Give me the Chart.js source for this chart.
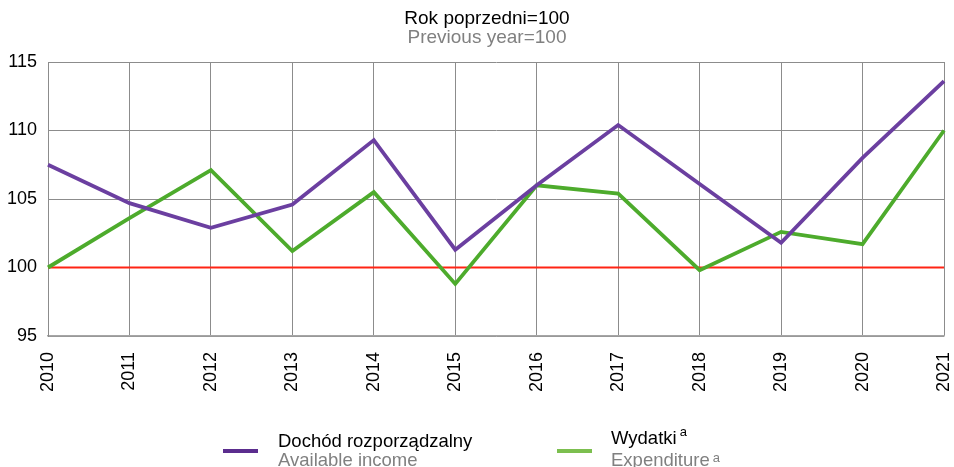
<!DOCTYPE html>
<html>
<head>
<meta charset="utf-8">
<script src="https://cdn.jsdelivr.net/npm/chart.js@4"></script>
<style>
  html, body { margin: 0; padding: 0; background: #fff; }
  #wrap { position: relative; width: 954px; height: 467px; font-family: "Liberation Sans", Arial, sans-serif; overflow: hidden; }
  .ttl { position: absolute; left: 387px; width: 200px; text-align: center; font-size: 19px; line-height: 19px; white-space: nowrap; }
  .leg { position: absolute; font-size: 18.5px; line-height: 19px; white-space: nowrap; }
  .leg .pl { color: #000; }
  .leg .en { color: #808080; }
  .leg sup { font-size: 13px; vertical-align: 8px; line-height: 0; margin-left: 3px; }
  .leg sup.low { vertical-align: 4px; }
  .sample { position: absolute; height: 4px; }
</style>
</head>
<body>
<div id="wrap">
  <canvas id="chart" width="954" height="467"></canvas>
  <div class="ttl" style="top:8px; color:#000;">Rok poprzedni=100</div>
  <div class="ttl" style="top:27px; color:#808080;">Previous year=100</div>
  <div class="sample" style="left:223px; top:449px; width:35px; background:#5b2d8e;"></div>
  <div class="leg" style="left:278px; top:431px;"><div class="pl">Dochód rozporządzalny</div><div class="en">Available income</div></div>
  <div class="sample" style="left:557px; top:449px; width:35px; background:#7cbf4f;"></div>
  <div class="leg" style="left:611px; top:428px;"><div class="pl">Wydatki<sup>a</sup></div><div class="en" style="margin-top:3px;">Expenditure<sup class="low">a</sup></div></div>
</div>
<script>
// dane: rok poprzedni = 100
const years = ['2010', '2011', '2012', '2013', '2014', '2015', '2016', '2017', '2018', '2019', '2020', '2021'];
const dochod = [107.5, 104.7, 102.9, 104.6, 109.3, 101.3, 106.0, 110.4, 106.1, 101.8, 108.0, 113.6];
const wydatki = [100.0, 103.6, 107.1, 101.2, 105.5, 98.8, 106.0, 105.4, 99.8, 102.6, 101.7, 110.0];
const baseline = 100;

const FONT = '"Liberation Sans", Arial, sans-serif';

// czerwona linia odniesienia na poziomie 100
const baselinePlugin = {
    id: 'baseline',
    beforeDatasetsDraw(chart) {
        const { ctx, chartArea, scales } = chart;
        const y = scales.y.getPixelForValue(baseline);
        ctx.save();
        ctx.strokeStyle = '#ff2414';
        ctx.lineWidth = 2;
        ctx.beginPath();
        ctx.moveTo(chartArea.left, y);
        ctx.lineTo(chartArea.right, y);
        ctx.stroke();
        ctx.restore();
    }
};

const ctx = document.getElementById('chart').getContext('2d');

new Chart(ctx, {
    type: 'line',
    data: {
        labels: years,
        datasets: [
            {
                label: 'Dochód rozporządzalny',
                data: dochod,
                borderColor: '#6b3fa0',
                borderWidth: 3.8,
                pointRadius: 0,
                tension: 0,
                fill: false
            },
            {
                label: 'Wydatki',
                data: wydatki,
                borderColor: '#4dab2c',
                borderWidth: 3.8,
                pointRadius: 0,
                tension: 0,
                fill: false
            }
        ]
    },
    options: {
        responsive: false,
        animation: false,
        layout: { padding: { left: 0, right: 10, top: 62, bottom: 75 } },
        scales: {
            x: {
                offset: false,
                grid: { color: '#8c8c8c', lineWidth: 1, drawTicks: false },
                border: { color: '#a6a6a6', width: 1.5 },
                ticks: {
                    minRotation: 90, maxRotation: 90, padding: 16,
                    color: '#000',
                    font: { family: FONT, size: 18 }
                },
                afterFit(scale) {
                    scale.paddingLeft = 0;
                    scale.paddingRight = 0;
                    scale.height = 56;
                }
            },
            y: {
                min: 95, max: 115,
                grid: { color: '#8c8c8c', lineWidth: 1, drawTicks: false },
                border: { color: '#8c8c8c', width: 1 },
                ticks: {
                    stepSize: 5, padding: 11,
                    color: '#000',
                    font: { family: FONT, size: 18 }
                },
                afterFit(scale) {
                    scale.paddingTop = 0;
                    scale.paddingBottom = 0;
                    scale.width = 48;
                }
            }
        },
        plugins: {
            legend: { display: false },
            tooltip: { enabled: false }
        }
    },
    plugins: [baselinePlugin]
});
</script>
</body>
</html>
